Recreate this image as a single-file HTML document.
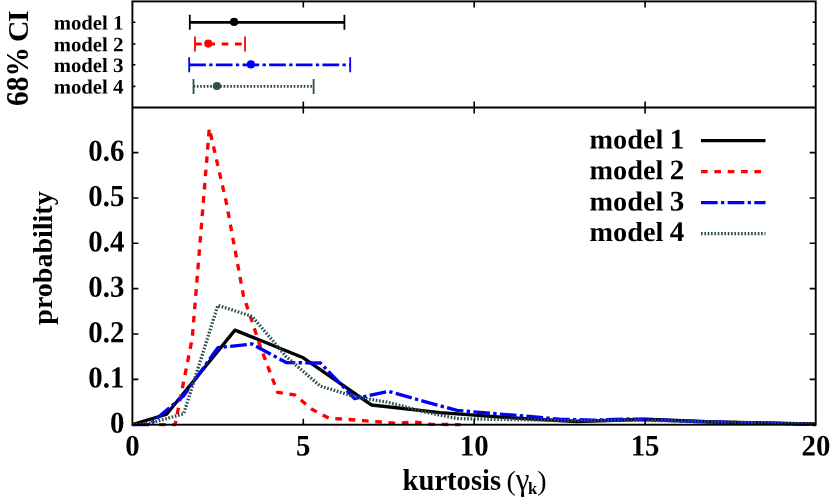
<!DOCTYPE html>
<html><head><meta charset="utf-8"><title>kurtosis</title>
<style>
html,body{margin:0;padding:0;background:#fff;}
svg{display:block;will-change:transform;}
text{font-family:"Liberation Serif",serif;font-weight:bold;fill:#000;}
</style></head><body>
<svg width="830" height="500" viewBox="0 0 830 500">
<rect x="0" y="0" width="830" height="500" fill="#ffffff"/>

<line x1="189.80" y1="22.30" x2="344.40" y2="22.30" stroke="#000" stroke-width="2.80"/>
<path d="M189.80,14.80 v15 M344.40,14.80 v15" stroke="#000" stroke-width="1.8" fill="none"/>
<circle cx="234.10" cy="21.90" r="4.1" fill="#000"/>
<line x1="195.00" y1="44.00" x2="245.00" y2="44.00" stroke="#ff0000" stroke-width="2.80" stroke-dasharray="6.67 6.67"/>
<path d="M195.00,36.50 v15 M245.00,36.50 v15" stroke="#ff0000" stroke-width="1.8" fill="none"/>
<circle cx="208.30" cy="43.60" r="4.1" fill="#ff0000"/>
<line x1="189.20" y1="64.80" x2="350.20" y2="64.80" stroke="#0000ff" stroke-width="2.80" stroke-dasharray="16.67 3.33 3.33 3.33"/>
<path d="M189.20,57.30 v15 M350.20,57.30 v15" stroke="#0000ff" stroke-width="1.8" fill="none"/>
<circle cx="250.90" cy="64.40" r="4.1" fill="#0000ff"/>
<line x1="193.50" y1="86.40" x2="313.60" y2="86.40" stroke="#2f4f4f" stroke-width="2.80" stroke-dasharray="1.67 1.67"/>
<path d="M193.50,78.90 v15 M313.60,78.90 v15" stroke="#2f4f4f" stroke-width="1.8" fill="none"/>
<circle cx="216.90" cy="86.00" r="4.1" fill="#2f4f4f"/>
<g fill="none" stroke-width="3.33" stroke-linejoin="round">
<path d="M132.40,424.70 L166.58,414.27 L234.94,330.10 L303.30,357.81 L371.66,405.02 L440.02,412.59 L508.38,417.67 L576.74,421.53 L645.10,419.26 L713.46,421.98 L781.82,423.34 L816.00,423.79" stroke="#000"/>
<path d="M158.03,424.70 L175.12,424.70 L192.22,338.53 L209.31,128.25 L226.40,202.94 L243.49,295.91 L260.58,347.15 L277.66,392.37 L294.75,394.91 L311.85,409.28 L328.94,418.17 L346.02,419.26 L363.12,420.62 L380.21,421.98 L397.29,423.34 L414.38,421.98 L431.48,424.34 L448.57,424.47 L460.53,424.70" stroke="#ff0000" stroke-dasharray="6.67 6.67" stroke-dashoffset="-1.0"/>
<path d="M132.40,424.70 L149.49,424.70 L183.67,395.68 L217.85,347.61 L252.03,343.98 L286.21,362.57 L320.39,363.02 L354.57,398.62 L388.75,391.37 L422.93,401.12 L457.11,410.41 L491.29,413.36 L525.47,416.08 L559.65,419.26 L593.83,420.16 L628.01,419.03 L662.19,420.16 L696.37,421.53 L730.55,422.43 L764.73,422.89 L798.91,424.02 L816.00,424.70" stroke="#0000ff" stroke-dasharray="16.67 3.33 3.33 3.33"/>
<path d="M132.40,424.70 L149.49,423.34 L183.67,413.82 L217.85,305.43 L252.03,316.31 L286.21,356.68 L320.39,386.15 L354.57,396.58 L388.75,402.48 L422.93,411.55 L457.11,418.58 L491.29,419.26 L525.47,419.71 L559.65,420.62 L593.83,420.62 L628.01,420.16 L662.19,420.62 L696.37,421.53 L730.55,422.43 L764.73,422.89 L798.91,423.79 L816.00,424.25" stroke="#2f4f4f" stroke-dasharray="1.67 1.67"/>
<path d="M701.00,140.60 H765.50" stroke="#000"/>
<path d="M701.00,171.70 H765.50" stroke="#ff0000" stroke-dasharray="6.67 6.67"/>
<path d="M701.00,202.60 H765.50" stroke="#0000ff" stroke-dasharray="16.67 3.33 3.33 3.33"/>
<path d="M701.00,233.60 H765.50" stroke="#2f4f4f" stroke-dasharray="1.67 1.67"/>
</g>
<rect x="132.40" y="1.40" width="683.30" height="423.30" stroke="#000" stroke-width="1.9" fill="none"/>
<line x1="132.40" y1="107.50" x2="815.70" y2="107.50" stroke="#000" stroke-width="1.9" fill="none"/>
<path d="M303.30,1.40 v6 M303.30,101.50 v12 M303.30,424.70 v-6 M474.20,1.40 v6 M474.20,101.50 v12 M474.20,424.70 v-6 M645.10,1.40 v6 M645.10,101.50 v12 M645.10,424.70 v-6 M132.40,379.35 h6 M815.70,379.35 h-6 M132.40,334.00 h6 M815.70,334.00 h-6 M132.40,288.65 h6 M815.70,288.65 h-6 M132.40,243.30 h6 M815.70,243.30 h-6 M132.40,197.95 h6 M815.70,197.95 h-6 M132.40,152.60 h6 M815.70,152.60 h-6 M132.40,22.30 h3 M815.70,22.30 h-3 M132.40,44.00 h3 M815.70,44.00 h-3 M132.40,64.80 h3 M815.70,64.80 h-3 M132.40,86.40 h3 M815.70,86.40 h-3" stroke="#000" stroke-width="1.6" fill="none"/>
<text transform="translate(684.30,148.60) scale(1.010,0.985) rotate(0.03)" font-size="28" text-anchor="end">model <tspan font-size="28.8" dx="-0.6">1</tspan></text>
<text transform="translate(684.30,179.20) scale(1.010,0.985) rotate(0.03)" font-size="28" text-anchor="end">model <tspan font-size="28.8" dx="-0.6">2</tspan></text>
<text transform="translate(684.30,210.60) scale(1.010,0.985) rotate(0.03)" font-size="28" text-anchor="end">model <tspan font-size="28.8" dx="-0.6">3</tspan></text>
<text transform="translate(684.30,241.10) scale(1.010,0.985) rotate(0.03)" font-size="28" text-anchor="end">model <tspan font-size="28.8" dx="-0.6">4</tspan></text>
<text transform="translate(123.60,29.50) scale(1.012,0.980) rotate(0.03)" font-size="20.5" text-anchor="end">model <tspan font-size="20.9">1</tspan></text>
<text transform="translate(123.60,51.20) scale(1.012,0.980) rotate(0.03)" font-size="20.5" text-anchor="end">model <tspan font-size="20.9">2</tspan></text>
<text transform="translate(123.60,72.00) scale(1.012,0.980) rotate(0.03)" font-size="20.5" text-anchor="end">model <tspan font-size="20.9">3</tspan></text>
<text transform="translate(123.60,93.60) scale(1.012,0.980) rotate(0.03)" font-size="20.5" text-anchor="end">model <tspan font-size="20.9">4</tspan></text>
<text transform="translate(124.30,432.85) scale(1.030,1.090) rotate(0.03)" font-size="28" text-anchor="end">0</text>
<text transform="translate(124.30,387.50) scale(1.030,1.090) rotate(0.03)" font-size="28" text-anchor="end">0.1</text>
<text transform="translate(124.30,342.15) scale(1.030,1.090) rotate(0.03)" font-size="28" text-anchor="end">0.2</text>
<text transform="translate(124.30,296.80) scale(1.030,1.090) rotate(0.03)" font-size="28" text-anchor="end">0.3</text>
<text transform="translate(124.30,251.45) scale(1.030,1.090) rotate(0.03)" font-size="28" text-anchor="end">0.4</text>
<text transform="translate(124.30,206.10) scale(1.030,1.090) rotate(0.03)" font-size="28" text-anchor="end">0.5</text>
<text transform="translate(124.30,160.75) scale(1.030,1.090) rotate(0.03)" font-size="28" text-anchor="end">0.6</text>
<text transform="translate(132.40,455.50) scale(1.030,1.065) rotate(0.03)" font-size="28" text-anchor="middle">0</text>
<text transform="translate(303.30,455.50) scale(1.030,1.065) rotate(0.03)" font-size="28" text-anchor="middle">5</text>
<text transform="translate(474.20,455.50) scale(1.030,1.065) rotate(0.03)" font-size="28" text-anchor="middle">10</text>
<text transform="translate(645.10,455.50) scale(1.030,1.065) rotate(0.03)" font-size="28" text-anchor="middle">15</text>
<text transform="translate(816.00,455.50) scale(1.030,1.065) rotate(0.03)" font-size="28" text-anchor="middle">20</text>
<text transform="translate(52.4,258) rotate(-90) scale(1.0,1.0)" font-size="28" text-anchor="middle">probability</text>
<text transform="translate(27.9,106.0) rotate(-90) scale(1.05,1.10)" font-size="28" text-anchor="start">68%</text>
<text transform="translate(27.9,10.4) rotate(-90) scale(1.06,1.07)" font-size="28" text-anchor="end">C<tspan dx="-1.2">I</tspan></text>
<text x="402.6" y="489.8" font-size="28.6">kurtosis <tspan font-weight="normal" font-size="28" dx="-1.8">(</tspan><tspan font-weight="normal" font-size="31">γ</tspan><tspan font-size="16.6" dy="3.8" dx="-1.6">k</tspan><tspan dy="-3.8" font-weight="normal" font-size="28">)</tspan></text>
</svg>
</body></html>
